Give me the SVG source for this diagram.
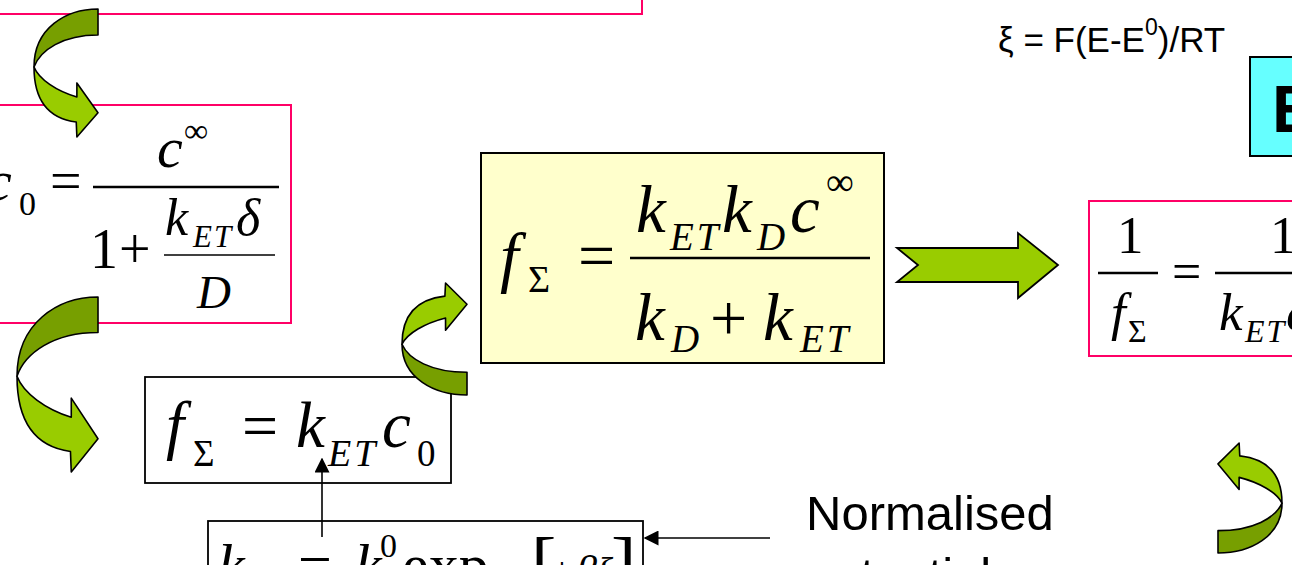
<svg xmlns="http://www.w3.org/2000/svg" xmlns:xlink="http://www.w3.org/1999/xlink" width="1292" height="565" viewBox="0 0 1292 565">
<style>
.pink{fill:#fff;stroke:#FF0066;stroke-width:2}
.blk{fill:#fff;stroke:#000;stroke-width:1.8}
.m{font-family:"Liberation Serif","Times New Roman",serif;fill:#000}
.i{font-style:italic}
.bar{stroke:#000;stroke-width:2.4}
.dk{fill:#779F00;stroke:#000;stroke-width:1.6;stroke-linejoin:round;vector-effect:non-scaling-stroke}
.lt{fill:#99CC00;stroke:#000;stroke-width:1.6;stroke-linejoin:round;vector-effect:non-scaling-stroke}
.ln{stroke:#000;stroke-width:1.6;fill:none}
.sans{font-family:"Liberation Sans",Arial,sans-serif;fill:#000}
</style>
<defs>
<g id="curv">
<path class="dk" d="M100,0 C50,0 0,15 0,45.3 C10,32 45,20.3 100,20.3 Z"/>
<path class="lt" d="M0,45.3 C0,75 30,86 66,88.3 L67,100 L100,81 L67,57.8 L67,68.75 C35,64 8,55 0,45.3 Z"/>
</g>
<marker id="ah2" viewBox="0 0 10 10" refX="9" refY="5" markerWidth="15" markerHeight="15" markerUnits="userSpaceOnUse" orient="auto">
<path d="M0,0 L10,5 L0,10 Z" fill="#000"/>
</marker>
</defs>

<g id="node-top">
<rect class="pink" x="-10" y="-30" width="652" height="44"/>
</g>

<g id="node-c0">
<rect class="pink" x="-10" y="105" width="301" height="218"/>
<text class="m i" x="-14" y="200" font-size="58">c</text>
<text class="m" x="19" y="215" font-size="34">0</text>
<text class="m" x="50" y="200" font-size="56">=</text>
<line class="bar" x1="93" y1="187" x2="279" y2="187"/>
<text class="m i" x="157" y="167" font-size="58">c</text>
<text class="m" x="184" y="142" font-size="34">∞</text>
<text class="m" x="90" y="268" font-size="56">1</text>
<text class="m" x="119" y="268" font-size="56">+</text>
<text class="m i" x="165" y="235" font-size="52">k</text>
<text class="m i" x="193" y="247" font-size="31" letter-spacing="2">ET</text>
<text class="m i" x="236" y="235" font-size="52">δ</text>
<line x1="164" y1="255" x2="275" y2="255" stroke="#000" stroke-width="1.6"/>
<text class="m i" x="197" y="308" font-size="47">D</text>
</g>

<g id="node-fkc">
<rect class="blk" x="145" y="377" width="306" height="106"/>
<text class="m i" x="166" y="447" font-size="65">f</text>
<text class="m" x="193" y="466" font-size="37">Σ</text>
<text class="m" x="242" y="447" font-size="64">=</text>
<text class="m i" x="296" y="447" font-size="65">k</text>
<text class="m i" x="328" y="466" font-size="38" letter-spacing="3">ET</text>
<text class="m i" x="382" y="447" font-size="65">c</text>
<text class="m" x="417" y="466" font-size="37">0</text>
</g>

<g id="node-frac">
<rect x="481" y="153" width="403" height="210" fill="#FFFFCC" stroke="#000" stroke-width="2"/>
<text class="m i" x="500" y="280" font-size="67">f</text>
<text class="m" x="528" y="292" font-size="38">Σ</text>
<text class="m" x="578" y="278" font-size="66">=</text>
<line class="bar" x1="630" y1="258" x2="870" y2="258" stroke-width="2.6"/>
<text class="m i" x="636" y="232" font-size="67">k</text>
<text class="m i" x="670" y="250" font-size="39" letter-spacing="3">ET</text>
<text class="m i" x="722" y="232" font-size="67">k</text>
<text class="m i" x="757" y="250" font-size="39">D</text>
<text class="m i" x="790" y="232" font-size="67">c</text>
<text class="m" x="826" y="195" font-size="39">∞</text>
<text class="m i" x="635" y="340" font-size="67">k</text>
<text class="m i" x="671" y="352" font-size="39">D</text>
<text class="m" x="710" y="340" font-size="66">+</text>
<text class="m i" x="763" y="340" font-size="67">k</text>
<text class="m i" x="800" y="352" font-size="39" letter-spacing="3">ET</text>
</g>

<g id="node-inverse">
<rect class="pink" x="1089" y="201" width="260" height="155"/>
<text class="m" x="1117" y="253" font-size="53">1</text>
<line class="bar" x1="1098" y1="273" x2="1158" y2="273" stroke-width="2"/>
<text class="m i" x="1111" y="330" font-size="53">f</text>
<text class="m" x="1128" y="342" font-size="32">Σ</text>
<text class="m" x="1172" y="289" font-size="52">=</text>
<line class="bar" x1="1215" y1="273" x2="1300" y2="273" stroke-width="2"/>
<text class="m" x="1270" y="253" font-size="53">1</text>
<text class="m i" x="1219" y="330" font-size="53">k</text>
<text class="m i" x="1245" y="342" font-size="32" letter-spacing="2">ET</text>
<text class="m i" x="1286" y="330" font-size="53">c</text>
</g>

<g id="node-cyan">
<rect x="1250" y="57" width="100" height="99" fill="#66FFFF" stroke="#000" stroke-width="2"/>
<text class="sans" x="1272" y="132" font-size="66" font-weight="bold">E</text>
</g>

<g id="node-xi">
<text class="sans" x="998" y="52" font-size="35">ξ = F(E-E<tspan dy="-17" font-size="23">0</tspan><tspan dy="17">)/RT</tspan></text>
</g>

<g id="node-ket">
<rect class="blk" x="208" y="521" width="435" height="80"/>
<text class="m i" x="218" y="585" font-size="60">k</text>
<text class="m i" x="246" y="600" font-size="36">ET</text>
<text class="m" x="298" y="585" font-size="60">=</text>
<text class="m i" x="355" y="585" font-size="60">k</text>
<text class="m" x="380" y="557" font-size="34">0</text>
<text class="m" x="402" y="585" font-size="60">exp</text>
<text class="m" x="531" y="590" font-size="76">[</text>
<text class="m" x="551" y="585" font-size="40">±</text>
<text class="m i" x="576" y="585" font-size="42">β</text>
<text class="m i" x="596" y="585" font-size="40">ξ</text>
<text class="m" x="611" y="590" font-size="76">]</text>
</g>

<g id="node-normalised">
<text class="sans" x="806" y="530" font-size="49">Normalised</text>
<text class="sans" x="806" y="592" font-size="49">potential</text>
</g>

<g id="connectors">
<use xlink:href="#curv" transform="translate(34,9) scale(0.64,1.28)"/>
<use xlink:href="#curv" transform="translate(17,297) scale(0.81,1.75)"/>
<use xlink:href="#curv" transform="translate(402,395) scale(0.65,-1.12)"/>
<use xlink:href="#curv" transform="translate(1282,553) scale(-0.64,-1.10)"/>
<path d="M897,248 L1018,248 L1018,233 L1058,265 L1018,298 L1018,282 L897,282 L918,265 Z" fill="#99CC00" stroke="#000" stroke-width="1.8" stroke-linejoin="miter"/>
<line class="ln" x1="322" y1="537" x2="322" y2="459" marker-end="url(#ah2)"/>
<line class="ln" x1="770" y1="538" x2="645" y2="538" marker-end="url(#ah2)"/>
</g>
</svg>
